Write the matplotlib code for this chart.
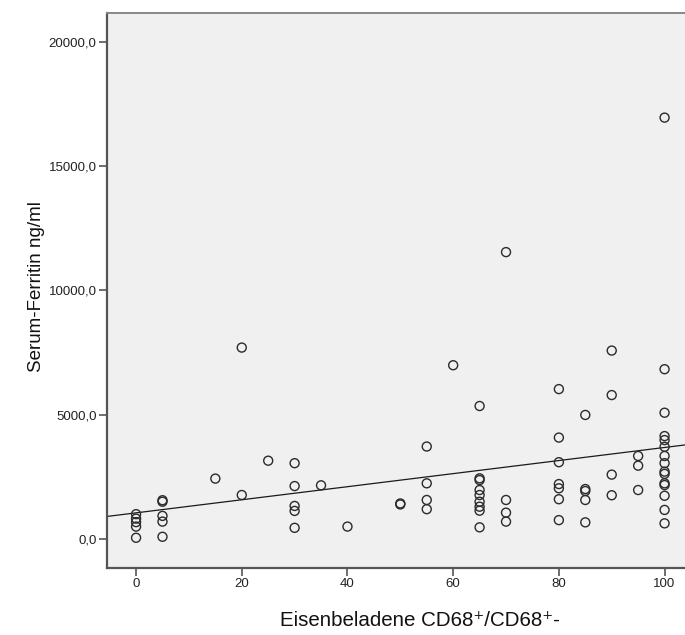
import numpy as np
import matplotlib
matplotlib.use("Agg")
import matplotlib.pyplot as plt

plt.rcParams['font.family'] = ['Liberation Sans', 'DejaVu Sans']

# Share of iron-laden CD68+ cells (%) and serum ferritin (ng/ml), grouped by x value
groups = {
    0:   [1000, 820, 680, 500, 50],
    5:   [1560, 1500, 930, 700, 90],
    15:  [2430],
    20:  [7700, 1770],
    25:  [3150],
    30:  [3050, 2130, 1330, 1130, 450],
    35:  [2160],
    40:  [500],
    50:  [1430, 1390],
    55:  [3720, 2240, 1570, 1200],
    60:  [6990],
    65:  [5350, 2440, 2370, 1970, 1770, 1500, 1300, 1140, 470],
    70:  [11540, 1570, 1060, 700],
    80:  [6030, 4080, 3090, 2210, 2040, 1600, 760],
    85:  [4990, 2010, 1930, 1570, 670],
    90:  [7580, 5790, 2590, 1760],
    95:  [3340, 2950, 1970],
    100: [16950, 6830, 5080, 4140, 3980, 3710, 3340, 3050, 2710, 2620,
          2240, 2170, 1740, 1170, 630],
}
x_ticks = [0, 20, 40, 60, 80, 100]
y_ticks = [0, 5000, 10000, 15000, 20000]

x = np.array([k for k, vals in groups.items() for _ in vals], dtype=float)
y = np.array([v for vals in groups.values() for v in vals], dtype=float)

fig = plt.figure(figsize=(6.85, 6.35), dpi=100)
ax = fig.add_axes([107 / 685, 67 / 635, 584 / 685, 555 / 635])
ax.set_facecolor('#f0f0f0')

xlim = (-5.5, 105.0)
ax.set_xlim(*xlim)
ax.set_ylim(-1166, 21158)

ax.scatter(x, y, s=42, facecolors='none', edgecolors='#2b2b2b', linewidths=1.0, zorder=3)

# Linear least-squares fit, drawn across the full x range
slope, intercept = np.polyfit(x, y, 1)
xx = np.array(xlim)
ax.plot(xx, intercept + slope * xx, color='#1a1a1a', lw=0.9, zorder=2)

ax.set_xticks(x_ticks)
ax.set_xticklabels([str(t) for t in x_ticks])
ax.set_yticks(y_ticks)
ax.set_yticklabels([f"{t},0" for t in y_ticks])
ax.tick_params(axis='both', labelsize=9.5, length=6, width=1.2,
               direction='out', pad=1.5, colors='#555555', labelcolor='#222222')

for side in ('left', 'bottom'):
    ax.spines[side].set_color('#555555')
    ax.spines[side].set_linewidth(1.6)
ax.spines['top'].set_color('#888888')
ax.spines['top'].set_linewidth(1.4)
ax.spines['right'].set_visible(False)

fig.text(420 / 685, 1 - 621 / 635, 'Eisenbeladene CD68\u207a/CD68\u207a-',
         ha='center', va='center', fontsize=14.8, color='#111111')
fig.text(37 / 685, 1 - 287 / 635, 'Serum-Ferritin ng/ml', rotation=90,
         ha='center', va='center', fontsize=13.5, color='#111111')

fig.savefig('out.png', dpi=100, facecolor='white')
